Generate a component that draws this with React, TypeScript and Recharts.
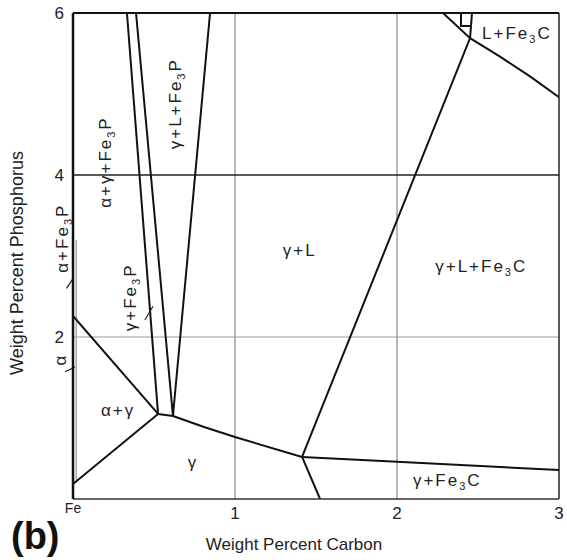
import { ComposedChart, Line, XAxis, YAxis, ReferenceLine, ReferenceDot } from "recharts";

type Pt = { x: number; y: number };

// phase boundaries, wt% C vs wt% P
const alphaGammaTop: Pt[] = [{ x: 0, y: 2.26 }, { x: 0.525, y: 1.05 }];
const alphaGammaBottom: Pt[] = [{ x: 0, y: 0.185 }, { x: 0.525, y: 1.05 }];
const fe3pLeft: Pt[] = [{ x: 0.333, y: 6 }, { x: 0.525, y: 1.05 }];
const fe3pRight: Pt[] = [{ x: 0.389, y: 6 }, { x: 0.617, y: 1.025 }];
const liquidFe3p: Pt[] = [{ x: 0.846, y: 6 }, { x: 0.617, y: 1.025 }];
const tieLine: Pt[] = [{ x: 0.525, y: 1.05 }, { x: 0.617, y: 1.025 }];
const gammaSolvus: Pt[] = [
  { x: 0.617, y: 1.025 },
  { x: 0.809, y: 0.889 },
  { x: 1.0, y: 0.765 },
  { x: 1.414, y: 0.519 },
];
const cementiteLow: Pt[] = [{ x: 1.414, y: 0.519 }, { x: 1.525, y: 0 }];
const gammaFe3c: Pt[] = [{ x: 1.414, y: 0.519 }, { x: 2, y: 0.46 }, { x: 3, y: 0.358 }];
const eutecticValley: Pt[] = [{ x: 1.414, y: 0.519 }, { x: 2.451, y: 5.69 }, { x: 2.463, y: 6 }];
const fe3cLiquidus: Pt[] = [
  { x: 2.284, y: 6 },
  { x: 2.451, y: 5.69 },
  { x: 2.636, y: 5.462 },
  { x: 2.821, y: 5.217 },
  { x: 3, y: 4.96 },
];
const smallBox: Pt[] = [{ x: 2.395, y: 6 }, { x: 2.395, y: 5.84 }, { x: 2.457, y: 5.84 }];
const alphaSolvus: Pt[] = [{ x: 0.02, y: 0.2 }, { x: 0.02, y: 3.2 }];

const boundaries = [
  alphaGammaTop, alphaGammaBottom, fe3pLeft, fe3pRight, liquidFe3p, tieLine,
  gammaSolvus, cementiteLow, gammaFe3c, eutecticValley, fe3cLiquidus, smallBox,
];

// region labels ("_3" = subscript 3)
const labelText = ["α+γ+Fe_3P", "γ+L+Fe_3P", "α+Fe_3P", "α", "γ+Fe_3P", "α+γ", "γ", "γ+L", "γ+L+Fe_3C", "γ+Fe_3C", "L+Fe_3C"];
const labelX = [0.198, 0.63, -0.068, -0.08, 0.352, 0.278, 0.74, 1.4, 2.52, 2.31, 2.74];
const labelY = [4.16, 4.88, 3.22, 1.72, 2.49, 1.1, 0.46, 3.07, 2.88, 0.23, 5.75];
const labelRotated = [true, true, true, true, true, false, false, false, false, false, false];

// little pointer strokes next to the narrow fields
const leaders: [Pt, Pt][] = [
  [{ x: -0.04, y: 2.6 }, { x: 0, y: 2.72 }],
  [{ x: -0.049, y: 1.57 }, { x: 0.012, y: 1.63 }],
  [{ x: 0.444, y: 2.21 }, { x: 0.494, y: 2.38 }],
];

const xTicks = [0, 1, 2, 3];
const yTicks = [2, 4, 6];

const FONT = "'Liberation Sans', Arial, sans-serif";

function PhaseText({ text, cx, cy, rotate }: { text: string; cx: number; cy: number; rotate: boolean }) {
  const parts = text.split("_3");
  return (
    <text
      x={cx}
      y={cy + 6}
      textAnchor="middle"
      fontSize={17}
      letterSpacing={2}
      fontFamily={FONT}
      fill="#222"
      transform={rotate ? `rotate(-90 ${cx} ${cy})` : undefined}
    >
      {parts.map((p, i) =>
        i === 0 ? (
          <tspan key={i}>{p}</tspan>
        ) : (
          [
            <tspan key={"s" + i} dy={4} fontSize={11}>3</tspan>,
            <tspan key={i} dy={-4}>{p}</tspan>,
          ]
        )
      )}
    </text>
  );
}

const XTick = ({ x, y, payload }: any) => {
  const fe = payload.value === 0;
  return (
    <text x={x} y={y} dy={fe ? 6 : 12} textAnchor="middle" fontSize={fe ? 14 : 17} fontFamily={FONT} fill="#222">
      {fe ? "Fe" : payload.value}
    </text>
  );
};

const YTick = ({ x, y, payload }: any) => (
  <text x={x} y={y} dy={6} textAnchor="end" fontSize={17} fontFamily={FONT} fill="#222">
    {payload.value}
  </text>
);

export default function App() {
  return (
    <>
      <style>{"html, body { margin: 0; padding: 0; }"}</style>
      <div style={{ width: 567, height: 560 }}>
        <ComposedChart width={567} height={560} margin={{ top: 13, right: 8, bottom: 0, left: 0 }}>
          <XAxis
            type="number"
            dataKey="x"
            domain={[0, 3]}
            ticks={xTicks}
            allowDataOverflow
            tickLine={false}
            tick={<XTick />}
            height={61}
            axisLine={{ stroke: "#333", strokeWidth: 1.5 }}
          />
          <YAxis
            type="number"
            dataKey="y"
            domain={[0, 6]}
            ticks={yTicks}
            allowDataOverflow
            tickLine={false}
            tickMargin={3}
            tick={<YTick />}
            width={73}
            axisLine={{ stroke: "#111", strokeWidth: 2.5 }}
          />
          <ReferenceLine x={1} stroke="#888" strokeWidth={1.2} />
          <ReferenceLine x={2} stroke="#888" strokeWidth={1.2} />
          <ReferenceLine y={2} stroke="#999" strokeWidth={1.2} />
          <ReferenceLine y={4} stroke="#222" strokeWidth={1.4} />
          <ReferenceLine x={3} stroke="#222" strokeWidth={1.5} />
          <ReferenceLine y={6} stroke="#111" strokeWidth={2} />
          <Line
            data={alphaSolvus}
            dataKey="y"
            type="linear"
            dot={false}
            stroke="#aaa"
            strokeWidth={1.5}
            isAnimationActive={false}
          />
          {boundaries.map((b, i) => (
            <Line
              key={i}
              data={b}
              dataKey="y"
              type="linear"
              dot={false}
              stroke="#111"
              strokeWidth={2}
              isAnimationActive={false}
            />
          ))}
          {leaders.map((s, i) => (
            <ReferenceLine key={"l" + i} segment={s} stroke="#222" strokeWidth={1.2} ifOverflow="visible" />
          ))}
          {labelText.map((t, i) => (
            <ReferenceDot
              key={"t" + i}
              x={labelX[i]}
              y={labelY[i]}
              r={1}
              fill="none"
              stroke="none"
              ifOverflow="visible"
              label={{
                content: (p: any) => {
                  const vb = p.viewBox || { x: 0, y: 0, width: 0, height: 0 };
                  return (
                    <PhaseText
                      text={t}
                      cx={vb.x + (vb.width || 0) / 2}
                      cy={vb.y + (vb.height || 0) / 2}
                      rotate={labelRotated[i]}
                    />
                  );
                },
              }}
            />
          ))}
          <text x={17} y={263} transform="rotate(-90 17 263)" textAnchor="middle" dominantBaseline="central" fontSize={18} fontFamily={FONT} fill="#222">
            Weight Percent Phosphorus
          </text>
          <text x={294} y={550} textAnchor="middle" fontSize={17} fontFamily={FONT} fill="#222">
            Weight Percent Carbon
          </text>
          <text x={11} y={549} fontSize={38} fontWeight="bold" fontFamily={FONT} fill="#111">
            (b)
          </text>
        </ComposedChart>
      </div>
    </>
  );
}
